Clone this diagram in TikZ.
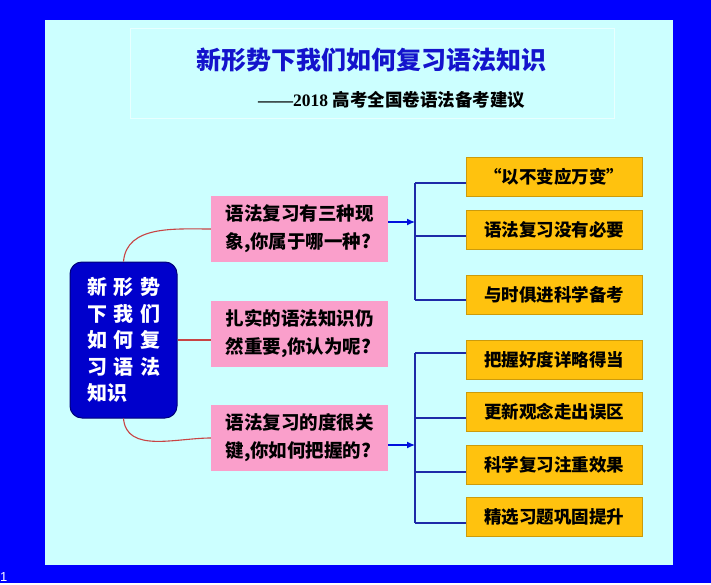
\documentclass[tikz,border=0pt]{standalone}
\usepackage{fontspec}
\newfontfamily\cjk{Noto Sans CJK SC}
\newfontfamily\lat{Liberation Serif}
\newfontfamily\latsans{Liberation Sans}
\usetikzlibrary{arrows.meta}
\newcommand\chargap{\hspace{6.5pt}}
\begin{document}
\begin{tikzpicture}[x=1pt,y=-1pt,
        question/.style={fill=qpink,minimum width=177pt,minimum height=66pt,align=left,inner sep=0pt,
            font=\cjk\bfseries\fontsize{18.5}{28}\selectfont},
        answer/.style={fill=agold,draw=agold!80!black,line width=0.6pt,minimum width=176pt,minimum height=39pt,
            inner sep=0pt,font=\cjk\bfseries\fontsize{17.5}{20}\selectfont},
        link/.style={draw=linkred,line width=1.1pt},
        branch/.style={draw=branchblue,line width=1.3pt},
        pointer/.style={draw=arrowblue,line width=1.3pt,-{Latex[length=8pt,width=7pt]}}]
        \definecolor{outerblue}{HTML}{0000FF}
        \definecolor{panel}{HTML}{CCFFFF}
        \definecolor{titleblue}{HTML}{1414CC}
        \definecolor{hubblue}{HTML}{0000CC}
        \definecolor{qpink}{HTML}{FA9FCB}
        \definecolor{agold}{HTML}{FFC20E}
        \definecolor{linkred}{HTML}{C84444}
        \definecolor{branchblue}{HTML}{1E2AA8}
        \definecolor{arrowblue}{HTML}{0010DD}
        \useasboundingbox (0,0) rectangle (711,585);
        % background and panel
        \fill[white] (0,0) rectangle (711,585);
        \fill[outerblue] (0,0) rectangle (711,583);
        \fill[panel] (45,20) rectangle (673,565);
        \node[anchor=west,inner sep=0pt,text=white,font=\latsans\fontsize{13}{13}\selectfont] (pageno) at (0,577) {1};
        % title
        \draw[white!55!panel,line width=0.8pt] (130,28) rectangle (614,118);
        \node[text=titleblue,font=\cjk\bfseries\fontsize{25}{25}\selectfont] (title) at (371,60) {新形势下我们如何复习语法知识};
        \node[anchor=west,inner sep=0pt,font=\bfseries\fontsize{17.5}{17.5}\selectfont] (subtitle) at (258,100)
            {\lat ——2018 \cjk 高考全国卷语法备考建议};
        % hub and questions
        \node[fill=hubblue,draw=hubblue!60!black,line width=1pt,rounded corners=12pt,minimum width=107pt,minimum height=156pt,
            align=left,text=white,font=\cjk\bfseries\fontsize{20}{26.5}\selectfont] (hub) at (123.5,340)
            {新\chargap 形\chargap 势\\下\chargap 我\chargap 们\\如\chargap 何\chargap 复\\习\chargap 语\chargap 法\\知识};
        \node[question] (q1) at (299.5,229) {语法复习有三种现\\象,你属于哪一种?};
        \node[question] (q2) at (299.5,333.5) {扎实的语法知识仍\\然重要,你认为呢?};
        \node[question] (q3) at (299.5,438) {语法复习的度很关\\键,你如何把握的?};
        \draw[link] (hub.north) to[out=85,in=180] (q1.west);
        \draw[link] (hub.east) -- (hub.east -| q2.west);
        \draw[link] (hub.south) to[out=-85,in=180] (q3.west);
        % answers
        \foreach \name/\y/\txt in {a1/176.5/{“以不变应万变”}, a2/229.5/语法复习没有必要, a3/294.5/与时俱进科学备考,
            a4/360/把握好度详略得当, a5/411.5/更新观念走出误区, a6/464.5/科学复习注重效果, a7/516.5/精选习题巩固提升}
            \node[answer] (\name) at (554,\y) {\txt};
        % brackets
        \foreach \name/\ly in {a1/183, a2/236, a3/300, a4/353, a5/418, a6/472, a7/523}
        {
            \coordinate (k\name) at (415,\ly);
            \draw[branch] (k\name) -- (k\name -| \name.west);
        }
        \draw[branch] (ka1) -- (ka3);
        \draw[branch] (ka4) -- (ka7);
        \coordinate (hit1) at (415,222);
        \coordinate (hit2) at (415,445);
        \draw[pointer] ([yshift=7pt]q1.east) -- (hit1);
        \draw[pointer] ([yshift=-7pt]q3.east) -- (hit2);
    \end{tikzpicture}
\end{document}
